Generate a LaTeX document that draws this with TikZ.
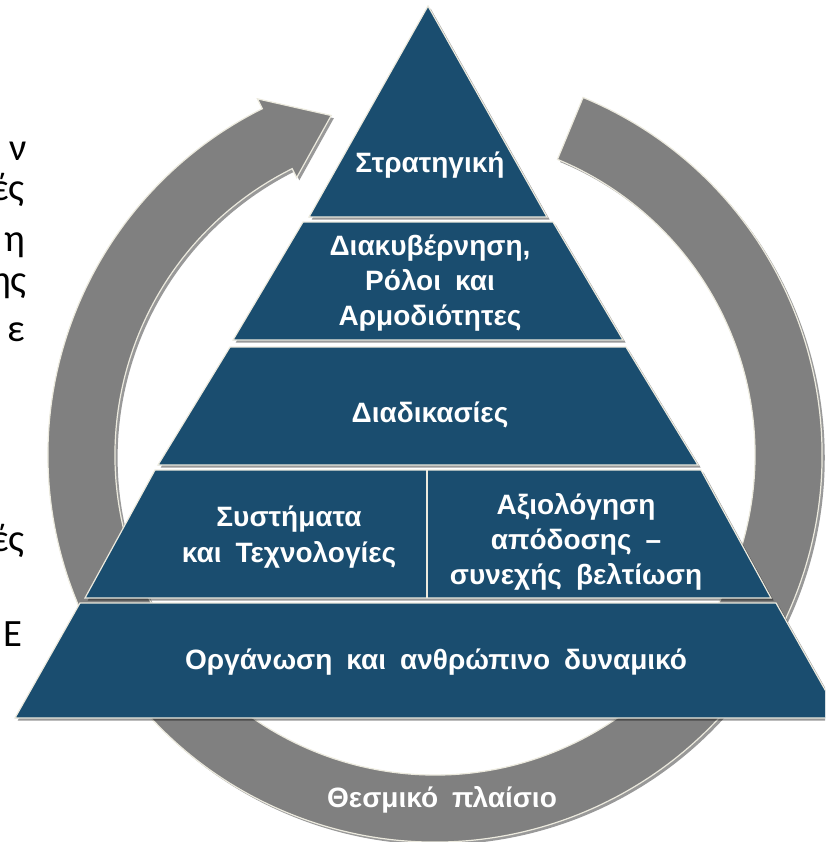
\documentclass[tikz,border=0pt]{standalone}
\usepackage{xcolor}
\usepackage{fontspec}
\setmainfont{Liberation Sans}[WordSpace=1.8]
\newfontfamily\sidefont{Carlito}
\usepackage{tikz}
\usetikzlibrary{shadows}

\begin{document}
\begin{tikzpicture}[x=0.75pt,y=0.75pt,yscale=-1,xscale=1,
    layer/.style={fill={rgb, 255:red, 26; green, 77; blue, 111}, draw={rgb, 255:red, 236; green, 234; blue, 222}, line width=0.9, drop shadow={shadow xshift=2pt, shadow yshift=-2pt, fill=black, opacity=0.4}},
    band/.style={fill={rgb, 255:red, 128; green, 128; blue, 128}, draw={rgb, 255:red, 236; green, 234; blue, 222}, line width=0.9, drop shadow={shadow xshift=2pt, shadow yshift=-2pt, fill=black, opacity=0.4}},
    lbl/.style={text=white, font=\bfseries\fontsize{21}{26.5}\selectfont, align=center, inner sep=0.75pt},
    side/.style={text=black, font=\sidefont\fontsize{29}{32}\selectfont, anchor=base east, inner sep=0pt}]
        \useasboundingbox (0,0) rectangle (825,842);
        \clip (0,0) rectangle (825,842);
        % circular arrow
        \begin{scope}[shift={(435,455)}]
            \draw [band] (-67.5:387) arc [start angle=-67.5, end angle=243.5, radius=387] -- (243.5:398) -- (253:355) -- (243.5:310) -- (243.5:320) arc [start angle=243.5, end angle=-67.5, radius=320] -- cycle ;
        \end{scope}
        % pyramid
        \draw [layer] (428,6) -- (547,217) -- (309,217) -- cycle ;
        \draw [layer] (303,222) -- (553,222) -- (623,340) -- (233,340) -- cycle ;
        \draw [layer] (230,347) -- (626,347) -- (698,465) -- (158,465) -- cycle ;
        \draw [layer] (155,470) -- (701,470) -- (771,598) -- (85,598) -- cycle ;
        \draw [color={rgb, 255:red, 236; green, 234; blue, 222}, line width=0.9] (427,470) -- (427,598) ;
        \draw [layer] (80,603) -- (776,603) -- (841,718) -- (15,718) -- cycle ;
        % labels
        \node (strat) [lbl] at (430,165) {Στρατηγική};
        \node (gov) [lbl] at (430,283) {Διακυβέρνηση,\\Ρόλοι και\\Αρμοδιότητες};
        \node (proc) [lbl] at (430,415) {Διαδικασίες};
        \node (sys) [lbl] at (289,537) {Συστήματα\\και Τεχνολογίες};
        \node (eval) [lbl] at (576,542) {Αξιολόγηση\\απόδοσης –\\συνεχής βελτίωση};
        \node (org) [lbl] at (436,662) {Οργάνωση και ανθρώπινο δυναμικό};
        \node (frame) [lbl] at (442,800) {Θεσμικό πλαίσιο};
        % cut text on the left
        \node (s1) [side] at (27,160) {ν};
        \node (s2) [side] at (25,200) {ές};
        \node (s3) [side] at (26,251) {η};
        \node (s4) [side] at (27,292) {ης};
        \node (s5) [side] at (25,341) {ε};
        \node (s6) [side] at (25,551) {ές};
        \node (s7) [side] at (23,646) {Ε};
\end{tikzpicture}
\end{document}
